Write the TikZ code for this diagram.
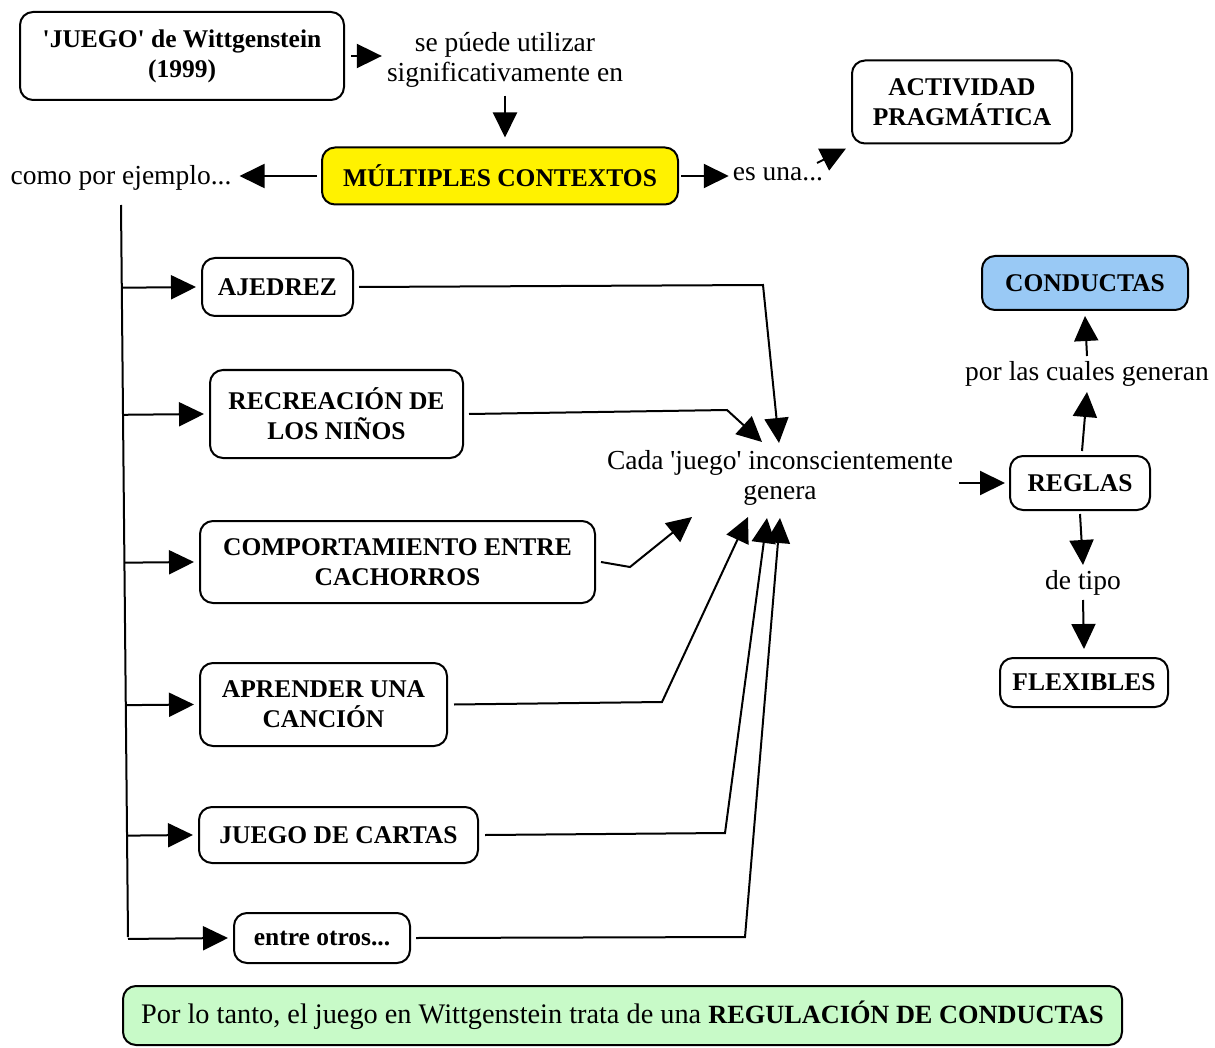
\documentclass[tikz,border=0pt]{standalone}
\usepackage{fontspec}
\setmainfont{Liberation Serif}[Ligatures=TeXOff]
\usetikzlibrary{arrows.meta,calc}
\definecolor{condblue}{RGB}{153,201,245}
\definecolor{notegreen}{RGB}{200,250,200}
\begin{document}
\begin{tikzpicture}[x=1pt,y=-1pt,
  every node/.style={font=\fontsize{27.5}{30}\selectfont, align=center, inner sep=0pt},
  box/.style={draw, line width=2pt, rounded corners=13pt, fill=white,
              font=\fontsize{25.5}{30}\selectfont\bfseries},
  arr/.style={line width=2pt, -{Triangle[length=25pt,width=24pt]}},
  lin/.style={line width=2pt}
]
\useasboundingbox (0,0) rectangle (1215,1048);

% --- top part
\node[box, minimum width=324, minimum height=88] (juego) at (182,56) {'JUEGO' de Wittgenstein\\(1999)};
\node (usar) at (505,60) {se púede utilizar\\significativamente en};
\node[box, fill=yellow, minimum width=356, minimum height=57] (mult) at (500,176) {MÚLTIPLES CONTEXTOS};
\node (como) at (121,178) {como por ejemplo...};
\node (esuna) at (778,174) {es una...};
\node[box, minimum width=220, minimum height=83] (act) at (962,102) {ACTIVIDAD\\PRAGMÁTICA};

% --- examples
\node[box, minimum width=151, minimum height=58] (ajed) at (277.5,287) {AJEDREZ};
\node[box, minimum width=253, minimum height=88] (recr) at (336.5,414) {RECREACIÓN DE\\LOS NIÑOS};
\node[box, minimum width=395, minimum height=82] (comp) at (397.5,562) {COMPORTAMIENTO ENTRE\\CACHORROS};
\node[box, minimum width=247, minimum height=83] (apre) at (323.5,704.5) {APRENDER UNA\\CANCIÓN};
\node[box, minimum width=279, minimum height=56] (cart) at (338.5,835) {JUEGO DE CARTAS};
\node[box, minimum width=176, minimum height=50] (otro) at (322,938) {entre otros...};

% --- right part
\node (gen) at (780,478) {Cada 'juego' inconscientemente\\genera};
\node[box, minimum width=140, minimum height=54] (regl) at (1080,483) {REGLAS};
\node (por) at (1087,374) {por las cuales generan};
\node[box, fill=condblue, minimum width=206, minimum height=54] (cond) at (1085,283) {CONDUCTAS};
\node (tipo) at (1083,583) {de tipo};
\node[box, minimum width=168, minimum height=49] (flex) at (1084,682.5) {FLEXIBLES};

% --- conclusion
\node[box, fill=notegreen, minimum width=999, minimum height=59, font=\fontsize{28.3}{30}\selectfont]
  (concl) at (622.5,1015.5) {Por lo tanto, el juego en Wittgenstein trata de una {\fontsize{26.3}{30}\selectfont\bfseries REGULACIÓN DE CONDUCTAS}};

% --- connectors, top
\draw[arr] ([xshift=6pt]juego.east) -- ([xshift=-5pt]usar.west |- juego.east);
\draw[arr] ([yshift=-8pt]usar.south) -- ([yshift=9pt]usar.south |- mult.north);
\draw[arr] ([xshift=-4pt]mult.west) -- ([xshift=8pt]como.east |- mult.west);
\draw[arr] ([xshift=2pt]mult.east) -- ([xshift=-4pt]esuna.west |- mult.east);
\coordinate (eu) at (817,163);
\draw[arr] (eu) -- ([xshift=-5pt,yshift=-4pt]act.south west);

% --- trunk and branches
\coordinate (t0) at (121,205);
\coordinate (t1) at (128,937);
\draw[lin] (t0) -- (t1);
\foreach \n in {ajed,recr,comp,apre,cart,otro}
  \draw[arr] ($(t0)!(\n.west)!(t1)$) -- ([xshift=-5pt]\n.west);

% --- examples to "genera"
\coordinate (g1) at (779,443);
\coordinate (g2) at (762,442);
\coordinate (g3) at (692,517);
\coordinate (g4) at (748,517);
\coordinate (g5) at (767,518);
\coordinate (g6) at (780,518);
\draw[arr] ([xshift=5pt]ajed.east) -- (763,285) -- (g1);
\draw[arr] ([xshift=5pt]recr.east) -- (727,410) -- (g2);
\draw[arr] ([xshift=5pt]comp.east) -- (630,567) -- (g3);
\draw[arr] ([xshift=6pt]apre.east) -- (662,702) -- (g4);
\draw[arr] ([xshift=6pt]cart.east) -- (725,833) -- (g5);
\draw[arr] ([xshift=5pt]otro.east) -- (745,937) -- (g6);

% --- right chain
\draw[arr] ([xshift=6pt]gen.east |- regl.west) -- ([xshift=-4pt]regl.west);
\draw[arr] ([xshift=2pt,yshift=4pt]regl.north) -- ([yshift=-18pt]por.center);
\draw[arr] ([yshift=18pt]por.center) -- ([yshift=-5pt]cond.south);
\draw[arr] ([yshift=-3pt]regl.south) -- ([yshift=18pt]tipo.center);
\draw[arr] ([yshift=-17pt]tipo.center) -- ([yshift=8pt]flex.north);
\end{tikzpicture}
\end{document}
